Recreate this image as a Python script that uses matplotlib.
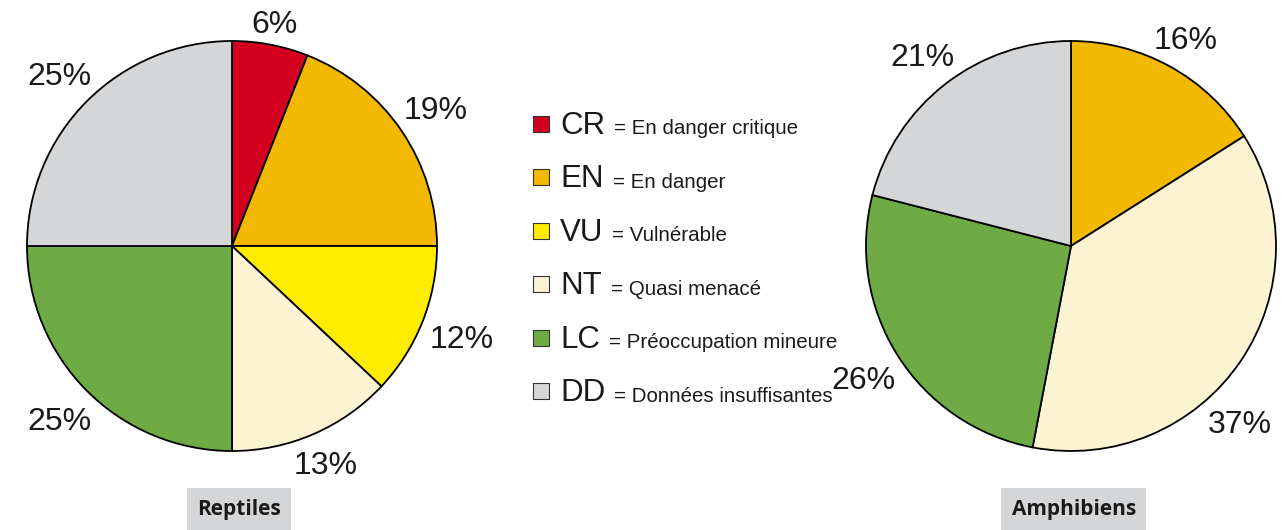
import matplotlib
matplotlib.use("Agg")
import matplotlib.pyplot as plt
import numpy as np

# categories (IUCN red list), colours and legend texts
codes = ["CR", "EN", "VU", "NT", "LC", "DD"]
names = ["En danger critique", "En danger", "Vulnérable", "Quasi menacé",
         "Préoccupation mineure", "Données insuffisantes"]
colors = ["#d2001e", "#f2b900", "#ffec00", "#fbf3d1", "#6fab45", "#d5d6d8"]

# percentages per group
reptiles = [6, 19, 12, 13, 25, 25]
amphibiens = [0, 16, 0, 37, 26, 21]

W, H = 1282, 530
R_PX = 205  # pie radius in pixels
fig = plt.figure(figsize=(W / 100, H / 100), dpi=100)
fig.patch.set_facecolor("white")

PCT_FONT = "Liberation Sans"


def draw_pie(left_px, title, values, title_x):
    # keep only non-empty classes
    vals = [v for v in values if v > 0]
    cols = [c for v, c in zip(values, colors) if v > 0]
    ax = fig.add_axes([left_px / W, (H - 451) / H, 2 * R_PX / W, 2 * R_PX / H])
    wedges, texts, autotexts = ax.pie(
        vals, colors=cols, startangle=90, counterclock=False,
        autopct="%d%%", pctdistance=1.2,
        wedgeprops=dict(edgecolor="black", linewidth=1.3, clip_on=False),
        textprops=dict(fontsize=23, family=PCT_FONT, color="#1a1a1a"),
    )
    ax.set_xlim(-1, 1)
    ax.set_ylim(-1, 1)
    ax.set_aspect("equal")
    ax.text(title_x, -0.142, title, transform=ax.transAxes, ha="center", va="center",
            fontsize=15, fontweight="bold", family="Open Sans", color="#1a1a1a",
            bbox=dict(boxstyle="square,pad=0.5", facecolor="#d5d6d8", edgecolor="none"))
    return ax, wedges, autotexts


def push_labels(ax, wedges, autotexts, gap_px=8, margin=8):
    # put every percentage just outside the circle, clearing it by gap_px,
    # and slide it along the rim if it would leave the figure
    renderer = fig.canvas.get_renderer()
    cx, cy = ax.transData.transform((0, 0))
    for w, t in zip(wedges, autotexts):
        ang = (w.theta1 + w.theta2) / 2
        bb = t.get_window_extent(renderer)
        cap = t.get_fontsize() * 0.72 * 100 / 72
        for _ in range(60):
            a = np.deg2rad(ang)
            half = abs(np.cos(a)) * bb.width / 2 + abs(np.sin(a)) * cap / 2
            d = R_PX + gap_px + half
            x = cx + d * np.cos(a)
            y = cy + d * np.sin(a)
            if margin <= x - bb.width / 2 and x + bb.width / 2 <= W - margin \
                    and y + cap / 2 <= H - margin:
                break
            # rotate towards the nearest vertical
            ang += 1 if np.sin(a) >= 0 else -1
            if np.cos(a) < 0:
                ang -= 2 if np.sin(a) >= 0 else -2
        t.set_position((d * np.cos(a) / R_PX, d * np.sin(a) / R_PX))
        t.set_va("center_baseline")


pies = [draw_pie(27, "Reptiles", reptiles, 0.517),
        draw_pie(866, "Amphibiens", amphibiens, 0.507)]
fig.canvas.draw()
for ax, wedges, autotexts in pies:
    push_labels(ax, wedges, autotexts)

# legend drawn by hand: big code + small description
leg = fig.add_axes([525 / W, (H - 418) / H, 330 / W, 321 / H])
leg.set_xlim(0, 330)
leg.set_ylim(len(codes) - 0.5, -0.5)
leg.axis("off")
for i, (code, name, col) in enumerate(zip(codes, names, colors)):
    leg.scatter(16, i, marker="s", s=130, color=col, edgecolor="#333333", linewidth=0.8)
    big = leg.text(35, i + 0.19, code, fontsize=22.5, family=PCT_FONT,
                   va="baseline", ha="left", color="#1a1a1a")
    leg.annotate("= " + name, xy=(1, 0), xycoords=big, xytext=(6.5, 2),
                 textcoords="offset points", va="bottom", ha="left",
                 fontsize=14.8, family=PCT_FONT, color="#1a1a1a")

fig.savefig("out.png", dpi=100, facecolor="white")
